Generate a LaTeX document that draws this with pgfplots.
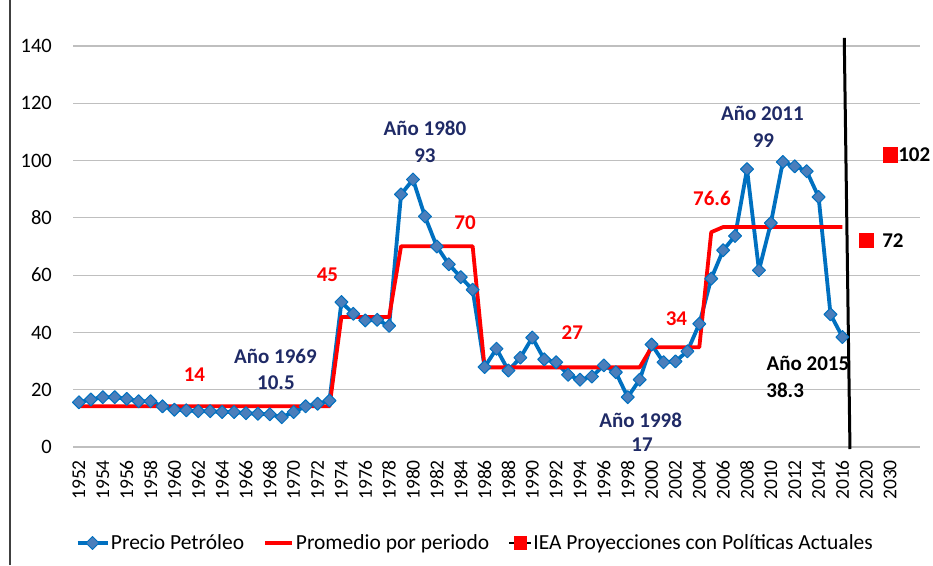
\documentclass[border=0pt]{standalone}
\usepackage{pgfplots}
\pgfplotsset{compat=1.18}
\usepackage{pgfplotstable}
\usepackage{fontspec}
\setmainfont{Carlito}
\definecolor{pblue}{HTML}{0070C0}
\definecolor{mfill}{HTML}{4A7EBB}
\definecolor{navy}{HTML}{1F2A66}
\definecolor{gridc}{HTML}{BFBFBF}
\pgfplotstableread{
i p a
0 15.6 14.2
1 16.6 14.2
2 17.4 14.2
3 17.4 14.2
4 16.8 14.2
5 16.0 14.2
6 16.0 14.2
7 14.2 14.2
8 13.0 14.2
9 12.8 14.2
10 12.5 14.2
11 12.5 14.2
12 12.2 14.2
13 12.2 14.2
14 11.8 14.2
15 11.6 14.2
16 11.4 14.2
17 10.4 14.2
18 12.2 14.2
19 14.2 14.2
20 15.1 14.2
21 16.2 14.2
22 50.6 45.4
23 46.5 45.4
24 44.2 45.4
25 44.4 45.4
26 42.3 45.4
27 88.2 70.1
28 93.4 70.1
29 80.5 70.1
30 70.0 70.1
31 63.8 70.1
32 59.3 70.1
33 54.9 70.1
34 27.9 27.8
35 34.3 27.8
36 26.7 27.8
37 31.2 27.8
38 38.2 27.8
39 30.6 27.8
40 29.6 27.8
41 25.2 27.8
42 23.5 27.8
43 24.6 27.8
44 28.5 27.8
45 26.1 27.8
46 17.4 27.8
47 23.5 27.8
48 35.8 34.8
49 29.6 34.8
50 29.9 34.8
51 33.4 34.8
52 43.0 34.8
53 58.8 75.0
54 68.7 76.8
55 73.7 76.8
56 97.0 76.8
57 61.7 76.8
58 78.2 76.8
59 99.5 76.8
60 98.0 76.8
61 96.3 76.8
62 87.3 76.8
63 46.3 76.8
64 38.4 76.8
}\data
\begin{document}
\begin{tikzpicture}
\begin{axis}[
  scale only axis, width=847pt, height=401pt,
  xmin=-0.5, xmax=70.5, ymin=0, ymax=140,
  clip=false,
  axis line style={draw=none},
  ymajorgrids, major grid style={gridc, line width=1.2pt},
  major tick length=0pt,
  ytick={0,20,...,140},
  xtick={0,2,...,64,66,68},
  xticklabels={1952,1954,1956,1958,1960,1962,1964,1966,1968,1970,1972,1974,1976,1978,1980,1982,1984,1986,1988,1990,1992,1994,1996,1998,2000,2002,2004,2006,2008,2010,2012,2014,2016,2020,2030},
  /pgf/number format/assume math mode=true,
  xticklabel style={rotate=90, anchor=east, inner sep=0pt, font=\fontsize{19.5}{22}\selectfont},
  xticklabel shift=13pt,
  yticklabel style={anchor=east, inner sep=0pt, font=\fontsize{20.5}{24}\selectfont},
  yticklabel shift=21pt,
  legend columns=3,
  legend cell align=left,
  legend style={draw=none, fill=none, at={(0.4746,-0.2394)}, anchor=center,
    font=\fontsize{21.5}{24}\selectfont, inner sep=0pt,
    nodes={inner sep=1.5pt},
    /tikz/every even column/.append style={column sep=18pt}},
]
\coordinate (sw) at (rel axis cs:0,0);
\addplot[pblue, line width=3.8pt, line join=round, mark=square*,
  mark size=4.6pt, mark options={rotate=45, fill=mfill, draw=pblue, line width=1pt},
  legend image code/.code={
    \draw[pblue, line width=3.8pt] (0pt,0pt) -- (30pt,0pt);
    \filldraw[fill=mfill, draw=pblue, line width=1pt] (15pt,6.5pt) -- (21.5pt,0pt) -- (15pt,-6.5pt) -- (8.5pt,0pt) -- cycle;}]
  table[x=i, y=p]{\data};
\addlegendentry{Precio Petróleo}
\addplot[red, line width=3.8pt, line join=round, no markers,
  legend image code/.code={\draw[red, line width=3.8pt] (0pt,0pt) -- (27pt,0pt);}]
  table[x=i, y=a]{\data};
\addlegendentry{Promedio por periodo}
\addplot[only marks, mark=square*, red, mark size=7.2pt,
  legend image code/.code={
    \draw[black, line width=1.2pt] (0pt,0pt) -- (22pt,0pt);
    \fill[red] (5pt,-6.5pt) rectangle (17pt,6.5pt);}]
  coordinates {(66,72.3) (68,102.1)};
\addlegendentry{IEA Proyecciones con Políticas Actuales}
\addplot[black, line width=3pt, forget plot] coordinates {(64.15,142.8) (64.63,-0.7)};

\tikzset{lab/.style={font=\fontsize{21}{24}\selectfont\bfseries}}
\node[lab, text=navy] at (axis cs:29.0,111.4) {Año 1980};
\node[lab, text=navy] at (axis cs:29.0,101.8) {93};
\node[lab, text=red] at (axis cs:32.36,78.4) {70};
\node[lab, text=red] at (axis cs:20.83,60.1) {45};
\node[lab, text=red] at (axis cs:9.68,25.1) {14};
\node[lab, text=navy] at (axis cs:16.47,31.6) {Año 1969};
\node[lab, text=navy] at (axis cs:16.51,22.3) {10.5};
\node[lab, text=red] at (axis cs:41.36,39.8) {27};
\node[lab, text=red] at (axis cs:50.08,44.8) {34};
\node[lab, text=navy] at (axis cs:47.08,9.4) {Año 1998};
\node[lab, text=navy] at (axis cs:47.2,0.7) {17};
\node[lab, text=red] at (axis cs:53.06,86.9) {76.6};
\node[lab, text=navy] at (axis cs:57.29,116.6) {Año 2011};
\node[lab, text=navy] at (axis cs:57.38,107.0) {99};
\node[lab, text=black] at (axis cs:61.1,29.3) {Año 2015};
\node[lab, text=black] at (axis cs:59.2,19.9) {38.3};
\node[lab, text=black, anchor=west, inner sep=0pt] at (axis cs:68.66,102.1) {102};
\node[lab, text=black] at (axis cs:68.23,71.9) {72};
\end{axis}
\draw[black!75, line width=2pt] (sw) ++(-63pt,-118pt) -- ++(0pt,565pt);
\pgfresetboundingbox
\path[use as bounding box] (sw) ++(-73pt,-118pt) rectangle ++(933pt,565pt);
\end{tikzpicture}
\end{document}
